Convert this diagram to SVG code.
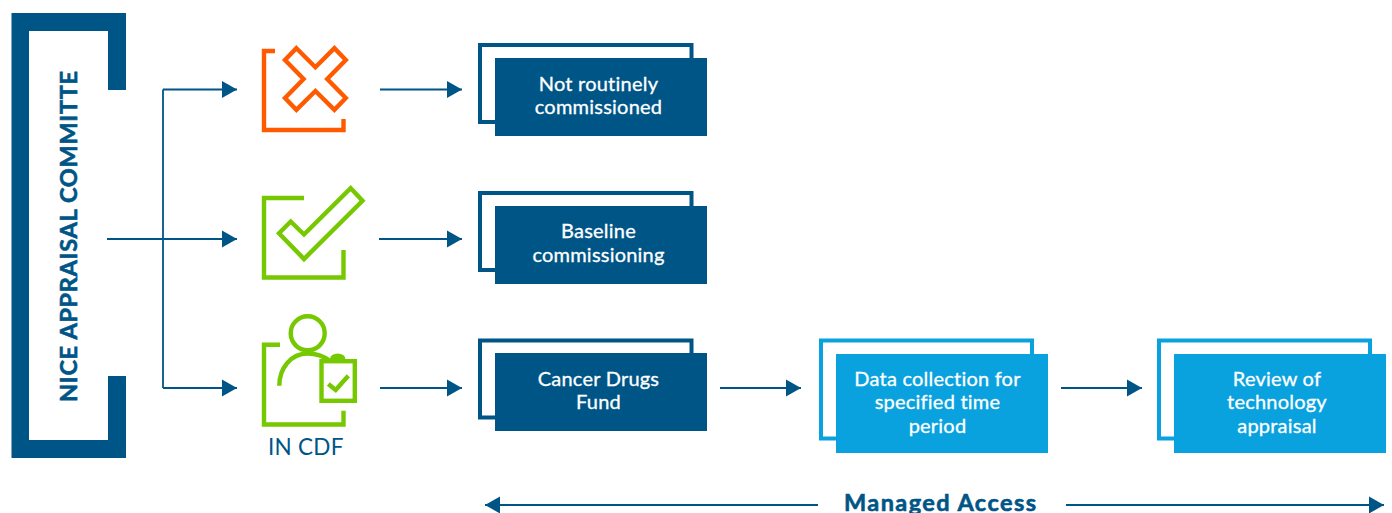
<svg xmlns="http://www.w3.org/2000/svg" width="1392" height="513" viewBox="0 0 1392 513">
<style>
.t{font-family:Lato,"Liberation Sans",sans-serif;font-size:20px;font-weight:400;letter-spacing:.22px;fill:#fff;stroke:#fff;stroke-width:.3px;text-anchor:middle}
.h{font-family:Lato,"Liberation Sans",sans-serif;font-size:23.500px;font-weight:700;fill:#005587;stroke:#005587;stroke-width:.6px}
.dk{fill:#005587}.lt{fill:#09a2df}
.odk{fill:#fff;stroke:#005587;stroke-width:4}.olt{fill:#fff;stroke:#09a2df;stroke-width:4}
.c{fill:none;stroke:#005587;stroke-width:1.8}
.ah{fill:#005587}
.or{fill:none;stroke:#ff5a00;stroke-width:4.4}
.gr{fill:none;stroke:#76c800;stroke-width:4.4}
</style>
<defs>
<marker id="a" markerUnits="userSpaceOnUse" markerWidth="15" markerHeight="18" refX="15" refY="9" orient="auto-start-reverse"><path class="ah" d="M0 .5L15 9L0 17.5Z"/></marker>
</defs>
<rect width="1392" height="513" fill="#fff"/>
<g id="committee">
<path class="dk" d="M11.500 13H126V90H108V31H29V440H108V376H126V458H11.500Z"/>
<text class="h" transform="translate(77 402) rotate(-90)" textLength="331">NICE APPRAISAL COMMITTE</text>
</g>
<g id="connectors">
<path class="c" d="M163 89.500V388"/>
<path class="c" d="M163 89.500H237" marker-end="url(#a)"/>
<path class="c" d="M107 239H237" marker-end="url(#a)"/>
<path class="c" d="M163 388H237" marker-end="url(#a)"/>
<path class="c" d="M380 89.500H462" marker-end="url(#a)"/>
<path class="c" d="M379 239H462" marker-end="url(#a)"/>
<path class="c" d="M380 388H462" marker-end="url(#a)"/>
<path class="c" d="M720 388H801" marker-end="url(#a)"/>
<path class="c" d="M1061 388H1142" marker-end="url(#a)"/>
<path class="c" d="M818 505H485" marker-end="url(#a)"/>
<path class="c" d="M1066 505H1384" marker-end="url(#a)"/>
</g>
<g id="icon-reject">
<path class="or" d="M275 51H264V130H343.500V119"/>
<path class="or" d="M296.400 48.200L315.400 67.200L334.400 48.200L345.800 60L327.200 79L345.800 98L334.400 109.800L315.400 91L296.400 109.800L285 98L303.600 79L285 60Z"/>
</g>
<g id="icon-approve">
<path class="gr" d="M304 198H264V277.500H343.500V250"/>
<path class="gr" d="M350.700 188.200L362.500 200.700L304 259L279 233.300L290.700 221.500L304 234.500Z"/>
</g>
<g id="icon-cdf">
<path class="gr" d="M280 344.700H264V424.500H343.500V410.700"/>
<circle class="gr" cx="307.700" cy="333.300" r="17"/>
<path class="gr" d="M279.300 385.700C279.300 368 291 353.500 307.700 353.500C316 353.500 323.500 356 330 361"/>
<path fill="#76c800" d="M330 359A7.700 5.500 0 0 1 345.400 359Z"/>
<rect class="gr" x="321.500" y="361.200" width="33.300" height="39.600"/>
<path class="gr" d="M328.300 384L335.700 390L348.300 375.700"/>
<text x="268" y="455" font-family="Lato,'Liberation Sans',sans-serif" font-size="22.500" font-weight="400" fill="#005587" textLength="75.500">IN CDF</text>
</g>
<g id="box-not-routine">
<rect class="odk" x="480" y="45" width="211.500" height="77"/>
<rect class="dk" x="495" y="58" width="212" height="78"/>
<text class="t"><tspan x="598.500" y="91">Not routinely</tspan><tspan x="598.500" y="114">commissioned</tspan></text>
</g>
<g id="box-baseline">
<rect class="odk" x="480" y="193" width="211.500" height="77"/>
<rect class="dk" x="495" y="206" width="212" height="78"/>
<text class="t"><tspan x="598.500" y="238">Baseline</tspan><tspan x="598.500" y="262">commissioning</tspan></text>
</g>
<g id="box-cdf">
<rect class="odk" x="480" y="340.500" width="211.500" height="77"/>
<rect class="dk" x="495" y="353" width="212" height="78"/>
<text class="t"><tspan x="598.500" y="386">Cancer Drugs</tspan><tspan x="598.500" y="409">Fund</tspan></text>
</g>
<g id="box-data">
<rect class="olt" x="821" y="340.500" width="211" height="98"/>
<rect class="lt" x="836" y="354" width="212" height="99"/>
<text class="t"><tspan x="937.500" y="386">Data collection for</tspan><tspan x="937.500" y="409">specified time</tspan><tspan x="937.500" y="433">period</tspan></text>
</g>
<g id="box-review">
<rect class="olt" x="1159" y="340.500" width="211" height="98"/>
<rect class="lt" x="1174" y="354" width="212" height="99"/>
<text class="t"><tspan x="1277" y="386">Review of</tspan><tspan x="1277" y="409">technology</tspan><tspan x="1277" y="433">appraisal</tspan></text>
</g>
<g id="label-managed-access">
<text class="h" x="940" y="511" text-anchor="middle" textLength="192">Managed Access</text>
</g>
</svg>
